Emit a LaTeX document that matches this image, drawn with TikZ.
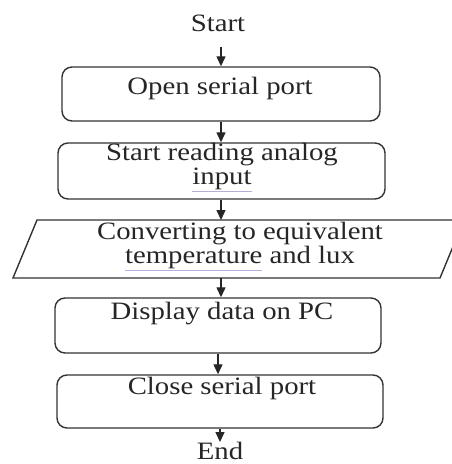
\documentclass[tikz,border=0pt]{standalone}
\usepackage{fontspec}
\setmainfont{Liberation Serif}[FakeStretch=1.15]
\usetikzlibrary{arrows.meta,calc}
\tikzset{
  box/.style={draw=black!80, line width=1.4pt, rounded corners=10pt, rectangle, inner sep=0pt},
  txt/.style={align=center, inner sep=0pt, font=\fontsize{25}{24}\selectfont, text=black!85},
  flow/.style={draw=black!85, line width=1.3pt, -{Triangle[length=10pt,width=9pt]}},
}
\newcommand{\spellmark}[1]{{\color{blue!35!gray!45}\underline{\textcolor{black!85}{#1}}}}
\begin{document}
\begin{tikzpicture}[x=1pt,y=-1pt]
\useasboundingbox (0,0) rectangle (451,464);
% boxes
\node[box, minimum width=318pt, minimum height=54pt] (b1) at (221,94) {};
\node[box, minimum width=327pt, minimum height=56pt] (b2) at (221.5,171) {};
\coordinate (pn) at (221,220);
\coordinate (ps) at (221,278);
\draw[draw=black!80, line width=1.4pt] (37,220) -- (464,220) -- (440,278) -- (13,278) -- cycle;
\node[box, minimum width=326pt, minimum height=55pt] (b3) at (218,325.5) {};
\node[box, minimum width=326pt, minimum height=53pt] (b4) at (220,401.5) {};
% texts
\node[txt] (tstart) at (218,23) {Start};
\node[txt] (t1) at (220,88) {Open serial port};
\node[txt] (t2) at (222,167) {Start reading analog\\\spellmark{input}};
\node[txt] (t3) at (240,246) {Converting to equivalent\\\spellmark{temperature} and lux};
\node[txt] (t4) at (222,314) {Display data on PC};
\node[txt] (t5) at (222,388) {Close serial port};
\node[txt, anchor=base] (tend) at (220,459) {End};
% connectors
\coordinate (s0) at (221,47);
\coordinate (e0) at (219,442);
\draw[flow] (s0) -- (s0 |- b1.north);
\draw[flow] (b1.south) -- (b1.south |- b2.north);
\draw[flow] (b2.south -| pn) -- (pn);
\draw[flow] (ps) -- (ps |- b3.north);
\draw[flow] (b3.south) -- (b3.south |- b4.north);
\draw[flow] (b4.south) -- (b4.south |- e0);
\end{tikzpicture}
\end{document}
